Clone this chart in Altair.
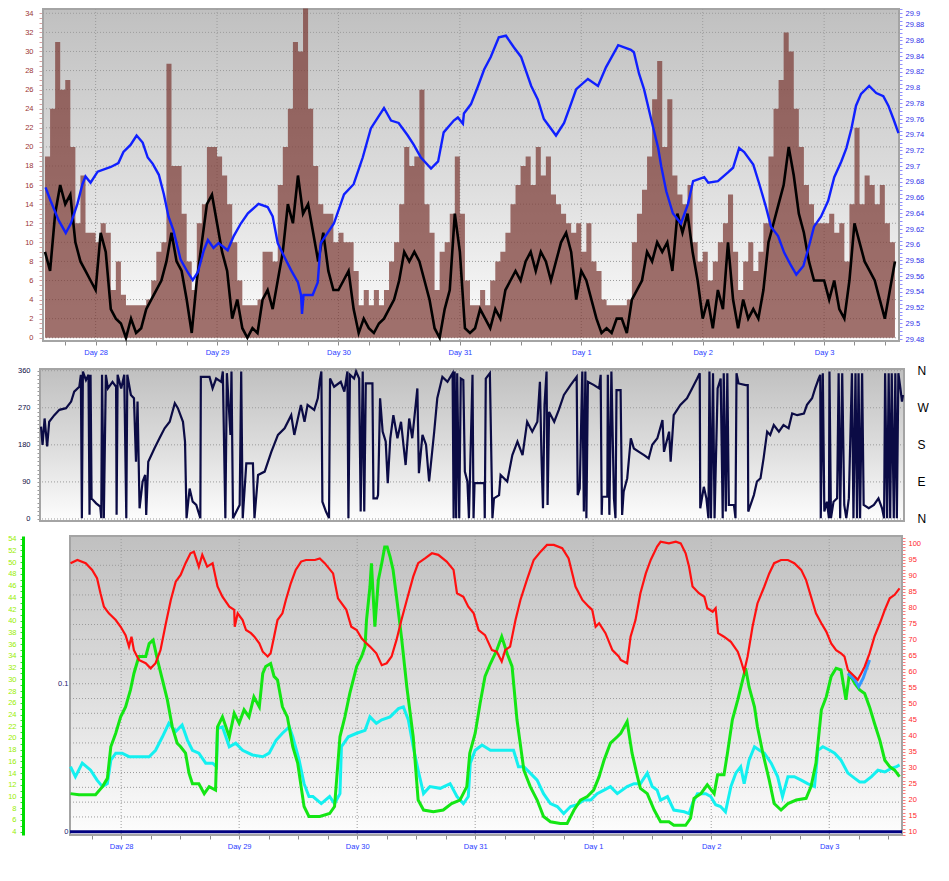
import json
import altair as alt
import pandas as pd

# ---------------- data ----------------
DAY_LABELS = ["Day 28", "Day 29", "Day 30", "Day 31", "Day 1", "Day 2", "Day 3"]
DAY_HOURS = [0, 24, 48, 72, 96, 120, 144]
COMPASS = ["N", "E", "S", "W", "N"]

# hourly wind gust / wind speed (hours from Day 28 00:00)
HOURS = list(range(-10, 159))
GUST = [19, 24, 31, 26, 27, 20, 12, 17, 11, 11,
        10, 12, 11, 5, 8, 4.5, 3.4, 3.4, 3.4, 3.4,
        4, 6, 9, 10, 28.7, 18, 18, 13, 8, 5,
        12, 14, 20, 20, 19, 17, 14, 10, 6, 3.4,
        3.4, 3.4, 4, 9, 9, 8, 16, 20, 24, 31,
        30, 34.5, 24, 18, 14, 13, 13, 10, 11, 10,
        10, 7, 3.4, 5, 3.4, 5, 3.4, 5, 8, 10,
        14, 20, 18, 19, 26, 14, 11, 5, 9, 10,
        13, 19, 13, 6, 3.4, 3.4, 5, 3.4, 6, 8,
        9, 11, 14, 16, 18, 19, 16, 20, 17, 19,
        15, 14, 13, 12, 11, 12, 9, 12, 8, 7,
        4, 3.4, 3.4, 3.4, 3.4, 4, 10, 13, 15.5, 19,
        25, 29, 20, 25, 17, 15, 14, 16, 10, 8,
        9, 6, 8, 10, 12, 15, 9, 5, 8, 10,
        7, 9, 12, 19, 24, 27, 32, 30, 24, 20,
        16, 14, 12, 12, 12, 13, 11, 12, 8, 14,
        22, 14, 17, 16, 14, 16, 12, 10, 20]
SPEED = [9, 7, 13, 16, 14, 15, 10, 8, 7, 6,
         5, 11, 9, 3, 2, 1.5, 0, 2, 0.5, 1,
         3, 4, 5, 6, 8, 11, 8, 7, 4, 0.5,
         6, 10, 14, 15, 12, 9, 7, 2, 4, 1,
         0, 1, 0.5, 4, 5, 3, 6, 9, 14, 12,
         17, 13, 14, 11, 8, 11, 7, 5, 5, 6,
         7, 3, 0.5, 2, 1, 0.5, 1.5, 2, 3, 4,
         6, 9, 8, 9, 8, 6, 4, 1, 0, 3,
         5, 13, 9, 1, 0.5, 1, 3, 2, 1, 3,
         2, 5, 6, 7, 6, 8, 9, 7, 9, 8,
         6, 8, 10, 11, 9, 4, 7, 6, 4, 2,
         0.5, 1, 0.5, 2, 2, 0.5, 4, 5, 6, 9,
         8, 10, 9, 10, 7, 13, 11, 13, 9, 6,
         2, 4, 1, 5, 3, 10, 4, 1, 4, 2,
         3, 2, 5, 10, 12, 14, 16, 20, 17, 13,
         11, 8, 6, 6, 6, 4, 6, 3, 2, 6,
         12, 10, 8, 7, 6, 4, 2, 5, 8]

# barometric pressure (hour, inHg)
PRESSURE = [(-9.9, 29.673), (-8.9, 29.656), (-7.3, 29.631), (-5.9, 29.615), (-4.9, 29.627),
            (-3.6, 29.652), (-2.6, 29.677), (-2.0, 29.687), (-1.0, 29.679), (0.4, 29.693),
            (3.0, 29.699), (4.5, 29.704), (5.5, 29.718), (6.9, 29.727), (8.1, 29.739),
            (9.3, 29.730), (10.3, 29.711), (11.3, 29.703), (12.5, 29.689), (13.5, 29.664),
            (14.4, 29.636), (15.4, 29.618), (16.8, 29.581), (18.2, 29.565), (19.2, 29.555),
            (20.2, 29.565), (21.4, 29.593), (22.2, 29.606), (23.3, 29.596), (24.3, 29.602),
            (26.1, 29.593), (27.3, 29.611), (28.7, 29.627), (30.1, 29.640), (32.2, 29.652),
            (34.0, 29.648), (35.0, 29.636), (36.0, 29.602), (37.2, 29.586), (38.6, 29.568),
            (40.0, 29.552), (40.6, 29.536), (40.8, 29.512), (41.1, 29.536), (42.9, 29.536),
            (43.9, 29.552), (44.5, 29.602), (47.1, 29.627), (49.1, 29.664), (51.0, 29.677),
            (52.8, 29.711), (54.4, 29.748), (57.0, 29.774), (58.4, 29.758), (59.9, 29.755),
            (61.7, 29.739), (62.9, 29.727), (64.3, 29.711), (66.3, 29.697), (67.7, 29.706),
            (68.8, 29.743), (70.8, 29.758), (71.6, 29.762), (72.6, 29.754), (72.8, 29.767),
            (74.2, 29.779), (75.6, 29.802), (76.8, 29.823), (78.1, 29.839), (79.7, 29.864),
            (81.1, 29.866), (82.7, 29.851), (84.1, 29.839), (86.1, 29.802), (87.4, 29.785),
            (88.6, 29.760), (91.0, 29.739), (92.6, 29.755), (94.0, 29.780), (95.0, 29.798),
            (97.3, 29.811), (99.3, 29.802), (100.9, 29.826), (103.3, 29.854), (105.8, 29.848),
            (106.4, 29.845), (107.4, 29.818), (108.4, 29.798), (109.8, 29.760), (111.2, 29.723),
            (111.8, 29.700), (112.8, 29.668), (114.1, 29.640), (115.7, 29.627), (117.1, 29.652),
            (118.1, 29.681), (120.3, 29.686), (121.1, 29.679), (123.0, 29.681), (125.0, 29.692),
            (126.0, 29.698), (127.2, 29.723), (128.2, 29.718), (130.0, 29.702), (131.2, 29.677),
            (132.5, 29.648), (133.5, 29.623), (134.9, 29.611), (136.1, 29.590), (137.5, 29.573),
            (138.5, 29.562), (139.9, 29.573), (141.0, 29.598), (142.0, 29.623), (143.4, 29.636),
            (144.8, 29.656), (146.0, 29.686), (147.4, 29.706), (148.4, 29.723), (149.4, 29.748),
            (150.3, 29.777), (151.3, 29.792), (152.9, 29.802), (154.3, 29.793), (155.7, 29.789),
            (156.7, 29.777), (157.7, 29.760), (158.7, 29.742)]

# wind direction (hour, degrees)
DIRECTION = [(-10.2, 224), (-9.9, 180), (-9.5, 244), (-9.0, 176), (-8.6, 236), (-7.6, 252), (-6.6, 265),
             (-5.3, 269), (-4.3, 285), (-3.7, 309), (-2.7, 321), (-2.4, 350), (-2.2, 2), (-2.0, 358),
             (-1.4, 337), (-0.9, 350), (-0.7, 10), (-0.5, 350), (-0.3, 50), (0.6, 38), (1.4, 30), (1.6, 2),
             (1.75, 350), (2.1, 2), (2.5, 350), (2.9, 317), (3.8, 333), (4.5, 321), (4.6, 10), (4.8, 350),
             (5.5, 317), (6.1, 350), (6.5, 2), (6.7, 350), (7.4, 301), (8.0, 293), (8.4, 139), (8.7, 285),
             (9.1, 26), (9.7, 91), (10.2, 107), (10.4, 10), (10.8, 139), (12.0, 171), (13.0, 196), (14.0, 220),
             (15.0, 236), (16.0, 281), (16.6, 269), (17.6, 236), (18.0, 188), (18.3, 2), (18.9, 74), (19.5, 42),
             (20.2, 34), (21.0, 2), (21.1, 345), (22.8, 345), (23.4, 317), (24.1, 341), (25.1, 333), (25.4, 358),
             (25.9, 2), (26.2, 354), (26.9, 204), (27.1, 358), (27.4, 2), (28.7, 34), (29.0, 358), (29.3, 2),
             (30.0, 135), (31.3, 135), (31.6, 2), (32.3, 107), (33.6, 115), (34.9, 163), (36.2, 204), (37.5, 220),
             (38.8, 252), (39.4, 204), (40.1, 244), (40.7, 277), (41.4, 236), (42.0, 277), (43.3, 265), (44.0, 293),
             (44.4, 337), (44.7, 358), (44.9, 42), (45.6, 18), (46.2, 2), (46.4, 341), (47.2, 321), (48.5, 333),
             (49.2, 309), (49.8, 358), (50.0, 2), (50.3, 350), (51.1, 341), (51.5, 358), (52.1, 341), (52.4, 18),
             (52.8, 358), (53.1, 18), (53.4, 329), (54.7, 329), (54.9, 50), (55.6, 50), (55.8, 58), (56.2, 293),
             (56.7, 212), (57.3, 188), (57.7, 87), (58.2, 196), (58.8, 252), (59.6, 196), (60.3, 236), (61.2, 131),
             (61.9, 244), (62.5, 196), (63.5, 317), (63.8, 111), (64.5, 204), (65.2, 180), (65.8, 91), (66.8, 212),
             (67.4, 293), (68.4, 345), (69.4, 333), (70.4, 354), (70.6, 2), (70.8, 358), (71.1, 2), (71.3, 354),
             (71.7, 2), (72.0, 341), (72.5, 337), (72.8, 115), (73.3, 91), (73.6, 2), (74.3, 350), (74.5, 2),
             (74.7, 87), (76.6, 87), (76.7, 2), (76.9, 341), (77.7, 354), (78.2, 2), (78.5, 50), (79.5, 58),
             (79.8, 107), (81.1, 91), (82.1, 155), (83.1, 188), (84.1, 155), (85.0, 236), (86.0, 212), (87.0, 236),
             (87.5, 333), (87.8, 155), (88.1, 26), (88.4, 277), (88.8, 358), (89.0, 34), (89.3, 260), (90.3, 236),
             (91.2, 265), (92.2, 301), (93.5, 325), (94.7, 345), (94.9, 58), (95.3, 74), (95.8, 358), (96.1, 18),
             (96.4, 358), (96.6, 2), (96.9, 333), (98.1, 325), (99.1, 317), (99.4, 350), (99.6, 10), (99.7, 54),
             (100.7, 54), (100.8, 350), (101.1, 10), (101.5, 358), (102.0, 50), (102.3, 2), (102.5, 313),
             (103.3, 313), (103.6, 10), (103.9, 66), (104.6, 99), (105.3, 196), (105.9, 171), (106.9, 163),
             (107.9, 155), (108.8, 147), (109.5, 180), (110.5, 196), (111.5, 240), (111.8, 163), (112.8, 212),
             (113.1, 139), (113.7, 252), (115.0, 277), (116.3, 293), (117.3, 317), (118.3, 341), (118.8, 354),
             (118.9, 26), (119.6, 78), (120.1, 50), (120.5, 2), (120.7, 358), (121.0, 2), (121.4, 354), (121.7, 2),
             (122.3, 317), (122.9, 341), (123.3, 2), (123.5, 354), (123.9, 18), (124.2, 354), (124.5, 34),
             (125.5, 34), (125.8, 2), (126.0, 354), (126.4, 329), (127.8, 325), (128.2, 325), (128.3, 18),
             (129.4, 58), (130.0, 91), (130.7, 99), (131.3, 147), (132.0, 212), (132.6, 204), (133.3, 228),
             (134.3, 212), (135.2, 228), (136.2, 220), (136.9, 256), (137.9, 252), (139.2, 256), (139.8, 277),
             (140.8, 293), (141.4, 317), (142.1, 341), (142.4, 350), (142.5, 2), (142.9, 354), (143.2, 18),
             (143.7, 42), (144.1, 2), (144.2, 358), (144.5, 2), (145.0, 42), (145.7, 50), (146.0, 354), (146.3, 2),
             (146.7, 354), (147.1, 34), (147.5, 2), (148.0, 50), (148.6, 354), (148.9, 2), (149.3, 354), (149.6, 2),
             (149.9, 354), (150.2, 2), (150.6, 354), (150.9, 34), (151.9, 26), (152.9, 34), (153.8, 50), (154.5, 26),
             (154.9, 2), (155.1, 354), (155.5, 2), (155.8, 354), (156.1, 2), (156.4, 354), (156.8, 2), (157.1, 354),
             (157.4, 2), (157.7, 354), (158.1, 317), (158.4, 285), (158.6, 301)]

# relative humidity (hour, %) - red
HUMIDITY = [(-10.3, 94.0), (-8.9, 95.0), (-7.2, 94.0), (-5.9, 91.9), (-4.9, 89.3), (-4.2, 84.6), (-3.5, 80.4),
            (-2.5, 78.3), (-1.1, 76.2), (-0.1, 74.1), (0.9, 71.5), (1.6, 67.9), (2.1, 71.0), (2.6, 66.8),
            (3.6, 63.7), (5.0, 62.7), (6.0, 61.1), (7.0, 62.7), (8.0, 66.8), (9.1, 75.2), (10.1, 82.5),
            (11.1, 88.2), (12.1, 90.3), (13.1, 94.0), (14.1, 97.1), (14.8, 97.6), (15.8, 92.9), (16.5, 96.6),
            (17.5, 92.9), (18.6, 94.0), (19.6, 86.7), (20.6, 83.5), (22.0, 80.4), (23.0, 79.4), (23.1, 74.1),
            (23.7, 78.3), (24.7, 76.2), (25.4, 73.1), (26.4, 72.1), (27.1, 71.0), (28.1, 68.9), (28.8, 66.3),
            (29.8, 64.8), (30.4, 65.8), (31.1, 71.0), (31.8, 76.2), (32.8, 78.3), (33.5, 82.5), (34.5, 87.7),
            (35.5, 91.9), (36.6, 94.5), (37.6, 95.0), (39.4, 95.0), (40.4, 95.5), (41.4, 94.0), (43.1, 90.8),
            (44.1, 83.0), (45.8, 79.4), (46.8, 74.1), (47.9, 73.1), (48.9, 70.5), (49.9, 68.9), (50.6, 67.9),
            (51.9, 65.8), (53.0, 62.1), (54.0, 62.7), (55.0, 64.8), (56.0, 70.0), (57.0, 76.2), (58.1, 82.5),
            (59.4, 89.8), (60.4, 94.0), (61.8, 95.5), (63.2, 97.1), (64.5, 96.6), (66.2, 94.5), (67.6, 91.9),
            (68.3, 84.6), (69.6, 83.5), (70.6, 80.4), (71.7, 78.3), (72.7, 73.1), (74.0, 71.5), (75.4, 66.8),
            (76.4, 66.3), (77.4, 63.2), (78.1, 66.8), (79.1, 67.9), (80.2, 76.2), (81.2, 82.5), (82.5, 88.7),
            (83.9, 95.0), (85.3, 97.6), (86.6, 99.7), (88.0, 99.7), (89.7, 98.7), (91.0, 95.5), (92.4, 86.7),
            (93.8, 82.5), (95.1, 80.4), (95.8, 79.4), (96.5, 74.1), (97.2, 75.2), (98.5, 72.1), (99.9, 66.8),
            (101.2, 64.8), (101.6, 63.7), (102.9, 62.7), (103.6, 71.0), (104.6, 76.2), (105.6, 84.6),
            (106.7, 90.8), (107.7, 95.0), (109.0, 99.2), (109.7, 100.7), (111.4, 100.2), (112.8, 100.7),
            (113.8, 100.2), (114.8, 97.1), (115.5, 92.9), (116.2, 86.7), (117.5, 84.6), (118.6, 83.5),
            (119.2, 79.9), (120.3, 78.8), (120.9, 79.9), (121.4, 72.1), (122.6, 71.0), (124.0, 69.4),
            (125.4, 66.3), (126.0, 63.7), (126.7, 60.1), (127.4, 64.8), (128.4, 74.1), (129.4, 81.4),
            (130.8, 86.7), (131.8, 90.8), (132.8, 94.0), (134.2, 95.0), (135.6, 95.0), (136.9, 94.0),
            (138.3, 91.9), (139.3, 88.7), (140.3, 83.5), (141.3, 78.3), (142.4, 75.2), (143.4, 72.6),
            (144.4, 68.9), (145.4, 66.8), (146.4, 65.8), (147.1, 64.8), (147.8, 60.6), (149.2, 58.5),
            (149.8, 57.5), (150.5, 59.5), (151.2, 61.6), (152.2, 65.8), (153.2, 71.0), (154.3, 75.2),
            (155.3, 79.4), (156.3, 83.0), (157.3, 84.1), (158.3, 86.1)]

# temperature (hour, deg) - green
TEMPERATURE = [(-10.3, 10.5), (-8.6, 10.3), (-5.2, 10.3), (-3.8, 11.7), (-2.8, 13.1), (-2.1, 18.5), (-1.1, 20.8),
               (-0.1, 23.6), (0.9, 25.3), (1.9, 28.2), (2.6, 31.0), (3.6, 33.9), (5.0, 33.9), (5.7, 36.1),
               (6.5, 36.7), (7.4, 33.3), (8.4, 29.9), (9.4, 26.5), (10.4, 21.9), (11.4, 19.1), (12.1, 18.5),
               (13.1, 17.4), (13.8, 14.0), (14.5, 12.2), (15.8, 12.2), (16.9, 10.5), (17.9, 11.7), (19.2, 11.1),
               (19.6, 21.9), (20.6, 23.6), (22.0, 20.2), (23.0, 24.2), (24.0, 22.5), (25.0, 24.8), (26.0, 23.6),
               (27.0, 27.0), (28.1, 25.3), (28.8, 31.0), (29.4, 32.2), (30.4, 32.7), (31.1, 30.5), (31.8, 29.9),
               (32.8, 25.3), (33.8, 23.6), (34.9, 18.5), (35.9, 15.7), (36.6, 11.7), (37.2, 8.3), (38.2, 6.6),
               (40.4, 6.6), (42.4, 7.1), (43.4, 8.3), (44.5, 20.2), (45.5, 23.6), (46.5, 27.6), (47.9, 32.2),
               (48.9, 33.9), (49.6, 35.6), (49.9, 40.1), (50.6, 45.8), (50.9, 49.8), (51.6, 39.0), (52.3, 46.9),
               (53.0, 49.8), (53.6, 52.6), (54.1, 52.6), (54.7, 50.9), (55.3, 48.7), (56.0, 44.1), (57.0, 37.3),
               (58.1, 28.7), (59.4, 20.2), (60.4, 9.4), (61.5, 7.7), (63.5, 7.4), (65.5, 7.7), (67.2, 8.8),
               (68.9, 9.4), (70.3, 11.7), (70.9, 17.4), (72.0, 20.8), (73.0, 25.9), (74.0, 30.5), (75.1, 32.7),
               (76.4, 35.0), (77.4, 37.3), (78.5, 34.4), (79.5, 32.2), (80.5, 23.1), (81.9, 14.5), (83.2, 11.7),
               (84.6, 9.4), (85.9, 6.6), (87.3, 5.7), (89.3, 5.4), (90.7, 5.4), (92.1, 7.7), (93.4, 9.4),
               (94.8, 10.0), (96.1, 11.1), (97.2, 13.4), (98.2, 16.2), (99.5, 19.1), (100.9, 20.2), (101.6, 20.8),
               (102.9, 22.8), (103.9, 17.4), (105.0, 13.4), (105.6, 11.4), (107.0, 10.5), (108.4, 7.7),
               (109.7, 5.7), (111.4, 5.7), (112.4, 5.1), (114.8, 5.1), (115.8, 6.3), (116.5, 9.7), (117.9, 10.5),
               (119.2, 12.0), (120.6, 10.5), (121.3, 13.7), (122.6, 13.7), (123.3, 17.4), (124.3, 23.1),
               (125.4, 26.5), (126.4, 29.9), (127.0, 31.9), (127.7, 28.7), (128.8, 25.3), (129.4, 21.9),
               (130.5, 17.4), (131.8, 12.8), (132.8, 8.8), (134.2, 7.7), (135.6, 8.8), (137.3, 9.4), (139.3, 9.7),
               (140.3, 11.7), (141.3, 15.7), (142.4, 24.8), (143.4, 27.0), (144.4, 30.5), (145.4, 31.9),
               (146.4, 31.6), (147.4, 26.5), (148.1, 31.0), (149.2, 29.3), (150.2, 28.2), (151.2, 27.6),
               (152.2, 25.3), (153.2, 22.5), (154.3, 19.6), (155.3, 16.2), (156.3, 15.1), (157.3, 14.5),
               (158.3, 13.4)]

# second temperature trace (hour, deg) - cyan
DEWPOINT = [(-10.3, 15.1), (-9.3, 13.4), (-7.9, 15.7), (-6.2, 14.5), (-4.9, 12.8), (-3.8, 11.7), (-2.8, 12.2),
            (-2.1, 16.2), (-1.1, 17.4), (0.2, 17.4), (1.6, 16.8), (3.6, 16.8), (5.7, 16.8), (7.0, 17.9),
            (8.4, 20.2), (9.7, 22.5), (11.1, 21.1), (12.4, 22.2), (13.5, 19.6), (14.5, 17.9), (15.8, 17.4),
            (17.2, 15.7), (18.6, 15.7), (19.4, 15.1), (19.6, 21.6), (20.6, 21.9), (22.0, 18.5), (23.3, 19.1),
            (24.7, 17.9), (26.7, 17.1), (28.8, 16.8), (30.1, 17.4), (31.5, 19.6), (32.8, 20.8), (34.2, 21.9),
            (34.9, 20.2), (36.2, 16.2), (37.2, 12.2), (38.2, 10.0), (39.0, 10.0), (40.7, 8.8), (42.4, 10.0),
            (43.4, 8.8), (44.5, 10.5), (44.8, 18.5), (46.2, 20.2), (47.9, 20.8), (49.6, 21.3), (50.6, 23.6),
            (51.9, 22.5), (53.0, 23.1), (54.7, 23.6), (56.4, 25.0), (57.4, 25.3), (58.4, 23.1), (59.4, 18.5),
            (60.4, 14.5), (61.5, 10.5), (62.8, 11.7), (64.9, 11.4), (66.9, 12.2), (68.3, 10.0), (69.6, 8.8),
            (70.6, 10.0), (71.0, 15.7), (72.0, 17.9), (73.4, 18.8), (75.1, 17.9), (76.8, 17.9), (78.5, 17.9),
            (79.8, 17.9), (80.8, 15.1), (81.9, 15.1), (83.2, 14.0), (84.6, 12.8), (85.9, 10.5), (87.3, 8.8),
            (88.7, 8.3), (90.0, 7.1), (91.4, 8.3), (92.7, 8.6), (94.1, 9.4), (95.5, 9.4), (96.8, 10.5),
            (98.2, 11.1), (99.5, 11.7), (100.9, 10.5), (102.9, 11.7), (104.3, 12.2), (105.6, 12.2), (107.0, 14.0),
            (108.0, 11.7), (109.0, 11.1), (109.7, 9.4), (111.1, 10.0), (112.4, 7.7), (114.5, 7.4), (115.5, 7.1),
            (116.2, 8.8), (117.2, 10.5), (118.9, 10.5), (119.9, 10.0), (120.9, 8.6), (121.9, 8.3), (122.9, 7.4),
            (124.0, 11.7), (125.0, 14.0), (126.0, 15.1), (126.7, 12.2), (127.7, 16.2), (128.8, 18.5),
            (129.8, 17.9), (130.8, 17.4), (132.2, 15.7), (133.5, 13.4), (134.5, 10.0), (135.6, 13.4),
            (136.9, 13.4), (138.3, 12.8), (139.6, 12.2), (141.0, 11.7), (141.7, 17.9), (142.7, 18.5),
            (144.1, 17.9), (145.1, 17.4), (146.4, 16.2), (147.8, 14.0), (149.2, 13.1), (150.2, 12.5),
            (151.2, 12.5), (152.6, 13.4), (153.9, 14.5), (155.3, 14.2), (156.6, 14.8), (157.7, 15.1),
            (158.3, 15.4)]

# short light-blue trace on the humidity scale
LIGHTBLUE = [(147.8, 59.5), (149.2, 57.5), (150.0, 55.4), (150.9, 58.0), (152.2, 63.7)]

# rainfall (hour, in)
RAIN = [(-10.4, 0.0), (0, 0.0), (24, 0.0), (48, 0.0), (72, 0.0), (96, 0.0), (120, 0.0), (144, 0.0), (158.8, 0.0)]

# axis tick positions
X_TICKS = list(range(-6, 157, 6))
WIND_TICKS = [i * 0.5 for i in range(0, 69)]
WIND_GRID = list(range(0, 35, 2))
PRESS_TICKS = [round(29.48 + i * 0.005, 3) for i in range(85)]
DIR_TICKS = list(range(0, 361, 10))
DIR_GRID = [0, 90, 180, 270, 360]
TEMP_TICKS = list(range(4, 55))
HUM_TICKS = list(range(9, 103))
RAIN_TICKS = [round(i * 0.025, 3) for i in range(8)]
RAIN_GRID = [round(i * 0.01, 2) for i in range(1, 20)]


def pairs(lst, name):
    return pd.DataFrame({"h": [a for a, _ in lst], name: [b for _, b in lst]})


X_DOMAIN = [-10.4, 158.8]
FONT = "Liberation Sans"
LABEL_EXPR = "datum.value % 24 === 0 ? " + json.dumps(DAY_LABELS) + "[datum.value / 24] : ''"

GRAD = {"gradient": "linear", "x1": 0, "x2": 0, "y1": 0, "y2": 1,
        "stops": [{"offset": 0, "color": "#c0c0c0"},
                  {"offset": 0.5, "color": "#dcdcdc"},
                  {"offset": 1, "color": "#fdfdfd"}]}
GRID_COLOR = "#9c9c9c"
HIDDEN_VIEW = alt.ViewBackground(stroke="transparent", strokeWidth=0, fill="transparent")


def xenc(show=True):
    if show:
        ax = alt.Axis(values=X_TICKS, labelExpr=LABEL_EXPR, labelColor="#2a3cff", tickColor="#8c8c8c",
                      tickSize=4, labelPadding=3, domain=False, grid=False, labelOverlap=False,
                      labelFont=FONT, labelFontSize=7.5, title=None)
    else:
        ax = alt.Axis(labels=False, ticks=False, domain=False, grid=False, title=None)
    return alt.X("h:Q", scale=alt.Scale(domain=X_DOMAIN, nice=False, zero=False), axis=ax)


def background():
    return alt.Chart(pd.DataFrame({"d": [0]})).mark_rect(
        fill=GRAD, stroke="#a4a4a4", strokeWidth=2
    ).encode(x=alt.value(0), x2=alt.value("width"), y=alt.value(0), y2=alt.value("height"))


def vgrid(show=True):
    return alt.Chart(pd.DataFrame({"h": DAY_HOURS})).mark_rule(
        color=GRID_COLOR, strokeDash=[1, 2], strokeWidth=1
    ).encode(x=xenc(show))


def spacer(w):
    return alt.Chart(pd.DataFrame({"s": [0]})).mark_point(opacity=0, size=1).encode(
        x=alt.value(0), y=alt.value(0)).properties(width=w, height=4, view=HIDDEN_VIEW)


# ---------------- panel 1: wind + pressure ----------------
df_wind = pd.DataFrame({"h": HOURS, "gust": GUST, "speed": SPEED})
df_press = pairs(PRESSURE, "p")

wind_scale = alt.Scale(domain=[-0.34, 34.45], nice=False, zero=False)
wind_axis = alt.Axis(orient="left", values=WIND_TICKS,
                     labelExpr="datum.value % 2 === 0 ? format(datum.value, 'd') : ''",
                     labelColor="#9a3434", tickColor="#d8a0a0", tickSize=4, labelPadding=6,
                     domain=False, grid=False, labelFont=FONT, labelFontSize=7.5, title=None)
press_axis = alt.Axis(orient="right", values=PRESS_TICKS,
                      labelExpr="round(datum.value * 1000) % 20 === 0 ? format(datum.value, '.2~f') : ''",
                      labelColor="#3030e8", tickColor="#8f8fff", tickSize=3, labelPadding=3,
                      labelFlush=True, domain=False, grid=False, labelFont=FONT, labelFontSize=7.5,
                      title=None)

wind_grid = alt.Chart(pd.DataFrame({"v": WIND_GRID})).mark_rule(
    color=GRID_COLOR, strokeDash=[1, 2], strokeWidth=1
).encode(y=alt.Y("v:Q", scale=wind_scale, axis=wind_axis))
gust = alt.Chart(df_wind).mark_area(interpolate="step-after", color="#7b3a35", opacity=0.72).encode(
    x=xenc(), y=alt.Y("gust:Q", scale=wind_scale, axis=wind_axis))
speed = alt.Chart(df_wind).mark_line(color="#000000", strokeWidth=2.6).encode(
    x=xenc(), y=alt.Y("speed:Q", scale=wind_scale, axis=wind_axis))
press = alt.Chart(df_press).mark_line(color="#1020ff", strokeWidth=2.4).encode(
    x=xenc(), y=alt.Y("p:Q", scale=alt.Scale(domain=[29.4775, 29.9], nice=False, zero=False), axis=press_axis))

panel1 = alt.layer(
    background(),
    alt.layer(wind_grid, vgrid(), gust, speed),
    press,
).resolve_scale(y="independent").properties(width=856, height=332)

# ---------------- panel 2: wind direction ----------------
df_dir = pairs(DIRECTION, "d")
dir_scale = alt.Scale(domain=[-4.9, 364.1], nice=False, zero=False)
dir_axis = alt.Axis(orient="left", values=DIR_TICKS,
                    labelExpr="datum.value % 90 === 0 ? format(datum.value, 'd') : ''",
                    labelColor="#0b0b45", tickColor="#9a9a9a", tickSize=3, labelPadding=7,
                    domain=False, grid=False, labelFont=FONT, labelFontSize=7.5, title=None)
compass_axis = alt.Axis(orient="right", values=DIR_GRID,
                        labelExpr=json.dumps(COMPASS) + "[round(datum.value / 90)]",
                        labelColor="#000000", labelFont=FONT, labelFontSize=12, ticks=False,
                        domain=False, grid=False, labelPadding=13, title=None)
dir_grid = alt.Chart(pd.DataFrame({"v": DIR_GRID})).mark_rule(
    color=GRID_COLOR, strokeDash=[1, 2], strokeWidth=1
).encode(y=alt.Y("v:Q", scale=dir_scale, axis=dir_axis))
dir_line = alt.Chart(df_dir).mark_line(color="#0b0b45", strokeWidth=2.2).encode(
    x=xenc(False), y=alt.Y("d:Q", scale=dir_scale, axis=dir_axis))
compass = alt.Chart(df_dir).mark_line(strokeOpacity=0).encode(
    x=xenc(False), y=alt.Y("d:Q", scale=dir_scale, axis=compass_axis))

panel2 = alt.layer(
    background(),
    alt.layer(dir_grid, dir_line),
    compass,
).resolve_scale(y="independent").properties(width=864, height=152)

# ---------------- panel 3: temperature / humidity / rain ----------------
rain_scale = alt.Scale(domain=[-0.0022, 0.1998], nice=False, zero=False)
rain_axis = alt.Axis(orient="left", offset=-7, values=RAIN_TICKS,
                     labelExpr="datum.value === 0 ? '0' : (abs(datum.value - 0.1) < 0.000001 ? '0.1' : '')",
                     labelColor="#1a1a6e", tickColor="#5a5aa0", tickSize=3, tickWidth=2, labelPadding=6,
                     domain=True, domainColor="#8a8a8a", domainWidth=2, grid=False,
                     labelFont=FONT, labelFontSize=7.5, title=None)
temp_scale = alt.Scale(domain=[3.44, 54.46], nice=False, zero=False)
temp_axis = alt.Axis(orient="left", offset=47, values=TEMP_TICKS,
                     labelExpr="datum.value % 2 === 0 ? format(datum.value, 'd') : ''",
                     labelColor="#99ee00", tickColor="#33dd33", tickSize=3, labelPadding=4,
                     domain=True, domainColor="#00dd00", domainWidth=3, grid=False,
                     labelFont=FONT, labelFontSize=7.5, title=None)
hum_scale = alt.Scale(domain=[8.97, 102.5], nice=False, zero=False)
hum_axis = alt.Axis(orient="right", values=HUM_TICKS,
                    labelExpr="datum.value % 5 === 0 && datum.value >= 10 && datum.value <= 100 ? format(datum.value, 'd') : ''",
                    labelColor="#ff2a2a", tickColor="#ff7a7a", tickSize=3, labelPadding=3,
                    domain=False, grid=False, labelFont=FONT, labelFontSize=7.5, title=None)

rain_grid = alt.Chart(pd.DataFrame({"v": RAIN_GRID})).mark_rule(
    color=GRID_COLOR, strokeDash=[1, 2], strokeWidth=1
).encode(y=alt.Y("v:Q", scale=rain_scale, axis=rain_axis))
rain_line = alt.Chart(pairs(RAIN, "r")).mark_line(color="#000080", strokeWidth=3).encode(
    x=xenc(), y=alt.Y("r:Q", scale=rain_scale, axis=rain_axis))
temp_line = alt.Chart(pairs(TEMPERATURE, "t")).mark_line(color="#14e614", strokeWidth=3).encode(
    x=xenc(), y=alt.Y("t:Q", scale=temp_scale, axis=temp_axis))
dew_line = alt.Chart(pairs(DEWPOINT, "t")).mark_line(color="#14f0f0", strokeWidth=3).encode(
    x=xenc(), y=alt.Y("t:Q", scale=temp_scale, axis=temp_axis))
lb_line = alt.Chart(pairs(LIGHTBLUE, "u")).mark_line(color="#3399ff", strokeWidth=3).encode(
    x=xenc(), y=alt.Y("u:Q", scale=hum_scale, axis=hum_axis))
hum_line = alt.Chart(pairs(HUMIDITY, "u")).mark_line(color="#ff1010", strokeWidth=2.2).encode(
    x=xenc(), y=alt.Y("u:Q", scale=hum_scale, axis=hum_axis))

panel3 = alt.layer(
    background(),
    alt.layer(rain_grid, vgrid(), rain_line),
    alt.layer(dew_line, temp_line),
    alt.layer(lb_line, hum_line),
).resolve_scale(y="independent").properties(width=832, height=299)

# ---------------- layout ----------------
row1 = alt.hconcat(spacer(18), panel1, spacing=0)
row2 = alt.hconcat(spacer(10), panel2, spacing=0)
row3 = alt.hconcat(spacer(1), panel3, spacing=0)

chart = alt.vconcat(row1, row2, row3, spacing=8).properties(
    padding={"left": -3, "top": -1, "right": 0, "bottom": 0}
).configure_view(stroke="transparent", strokeWidth=0).configure(background="#ffffff")

chart.save("out.html", embed_options={"renderer": "svg", "actions": False})
